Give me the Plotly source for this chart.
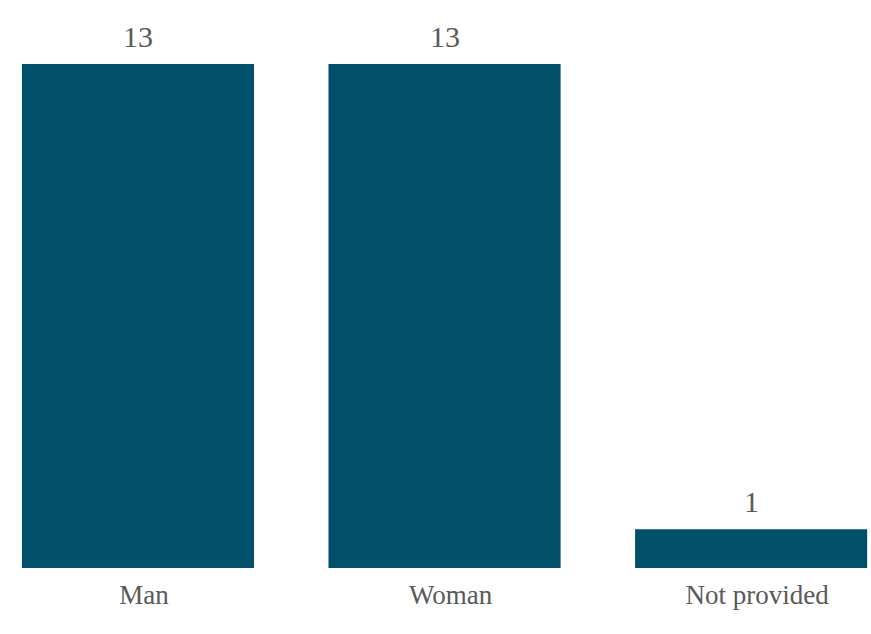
import plotly.graph_objects as go

categories = ["Man", "Woman", "Not provided"]
counts = [13, 13, 1]

BAR_COLOR = "#004F6B"
TEXT_COLOR = "#595959"
SERIF = "Liberation Serif"

fig = go.Figure(
    go.Bar(
        x=categories,
        y=counts,
        marker=dict(color=BAR_COLOR, line=dict(width=0)),
        hoverinfo="x+y",
    )
)

# value labels above each bar
for cat, val in zip(categories, counts):
    fig.add_annotation(
        x=cat,
        y=val,
        text=str(val),
        showarrow=False,
        yanchor="bottom",
        yshift=9,
        font=dict(family=SERIF, size=30, color=TEXT_COLOR),
    )

fig.update_layout(
    width=871,
    height=634,
    margin=dict(l=0, r=0, t=0, b=66),
    plot_bgcolor="white",
    paper_bgcolor="white",
    bargap=0.243,
    showlegend=False,
    font=dict(family=SERIF, color=TEXT_COLOR),
)
fig.update_xaxes(
    range=[-0.450, 2.391],
    showgrid=False,
    showline=False,
    ticks="",
    ticklabelstandoff=8,
    ticklabelshift=6,
    tickfont=dict(family=SERIF, size=27, color=TEXT_COLOR),
)
fig.update_yaxes(
    range=[0, 14.65],
    showgrid=False,
    showline=False,
    zeroline=False,
    showticklabels=False,
)

fig.write_html("out.html")
